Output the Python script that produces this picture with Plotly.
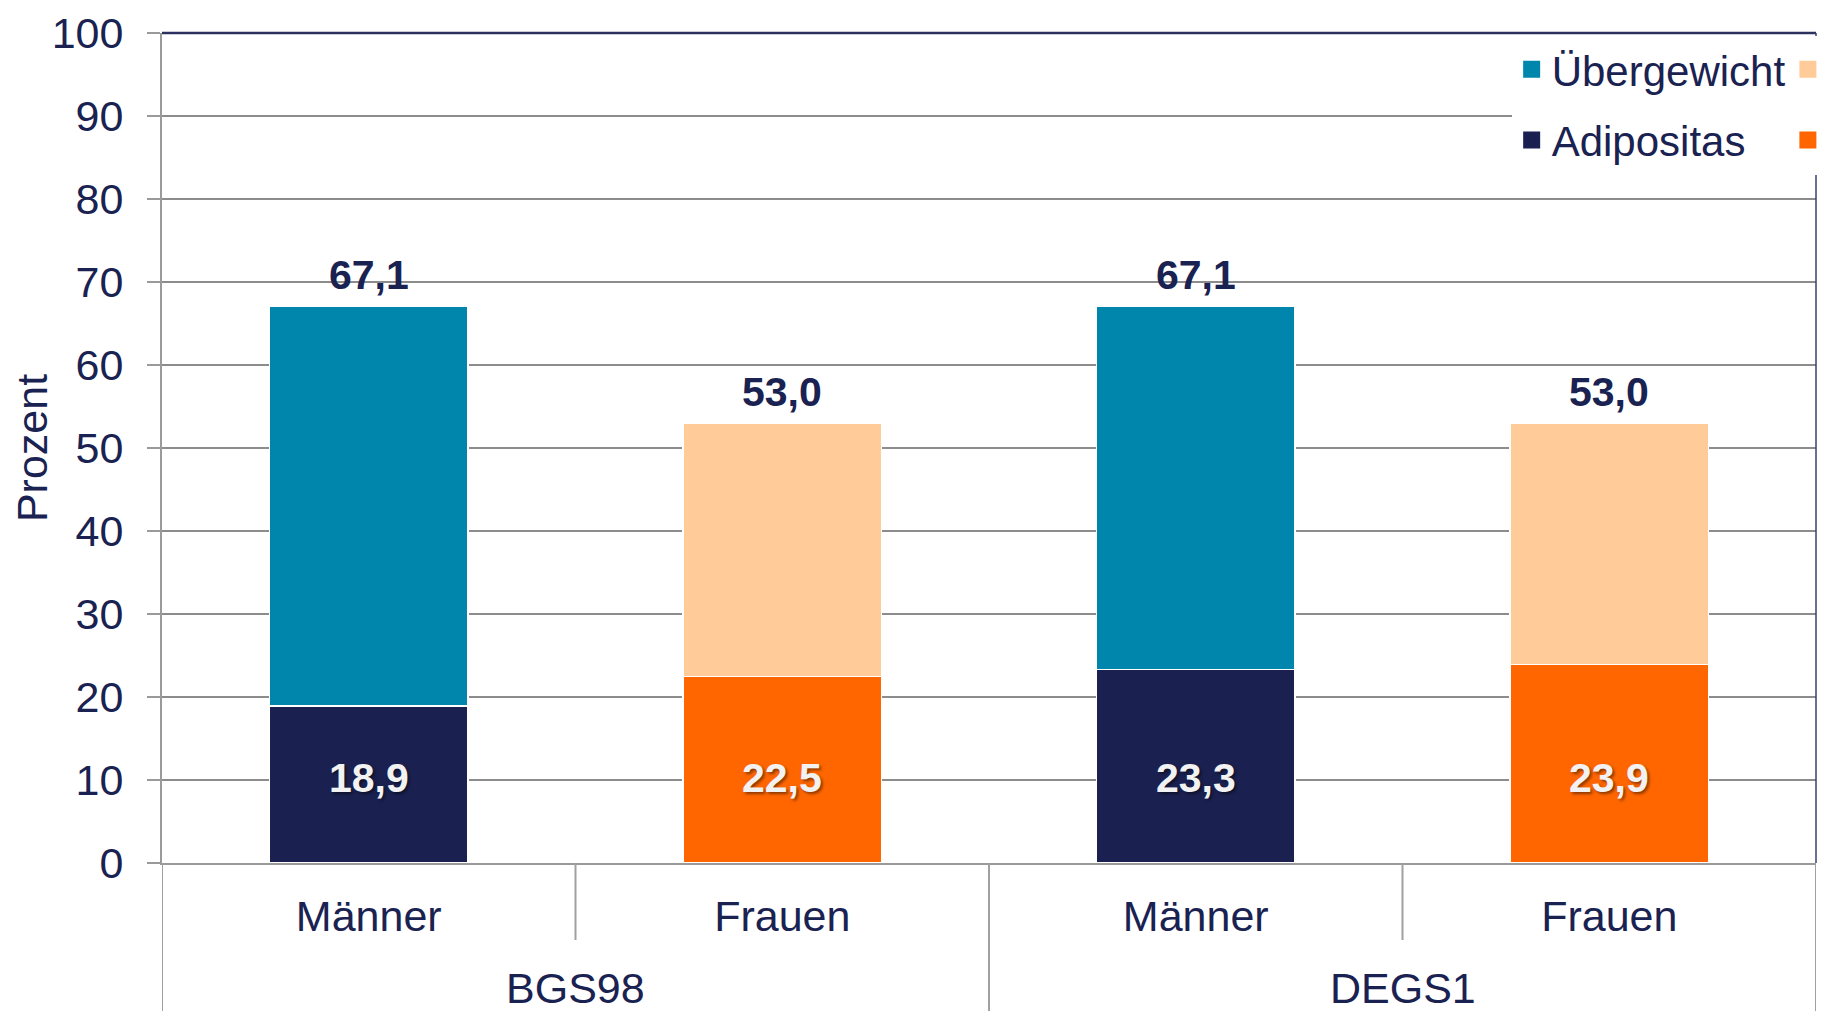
import plotly.graph_objects as go

# ---- data ----
studies = ["BGS98", "BGS98", "DEGS1", "DEGS1"]
sexes = ["Männer", "Frauen", "Männer", "Frauen"]
total_overweight = [67.1, 53.0, 67.1, 53.0]   # Übergewicht incl. Adipositas
obesity = [18.9, 22.5, 23.3, 23.9]            # Adipositas
y_ticks = [0, 10, 20, 30, 40, 50, 60, 70, 80, 90, 100]
group_names = ["BGS98", "DEGS1"]

NAVY_TXT = "#1a2251"
C_MEN_OVER = "#0086ad"
C_MEN_OB = "#1a2150"
C_WOM_OVER = "#ffcc99"
C_WOM_OB = "#ff6600"
GRID = "#8c8c8c"
AXIS = "#9a9a9a"
FONT = "Liberation Sans, Arial, sans-serif"

FIG_W, FIG_H = 1817, 1003
M_L, M_R, M_T, M_B = 154, 9, 25, 148
PLOT_H = FIG_H - M_T - M_B

def py(px_below_axis):
    """paper-y for a distance (px) below the x axis"""
    return -px_below_axis / PLOT_H

xs = list(range(len(sexes)))
men_idx = [i for i, s in enumerate(sexes) if s == "Männer"]
wom_idx = [i for i, s in enumerate(sexes) if s == "Frauen"]
rest = [t - o for t, o in zip(total_overweight, obesity)]

def fmt(v):
    return f"{v:.1f}".replace(".", ",")

fig = go.Figure()
bar_line = dict(color="white", width=1.5)
W = 0.48

series = [
    # (indices, values, colour)
    (men_idx, obesity, C_MEN_OB),
    (men_idx, rest, C_MEN_OVER),
    (wom_idx, obesity, C_WOM_OB),
    (wom_idx, rest, C_WOM_OVER),
]
for idx, vals, col in series:
    fig.add_trace(go.Bar(x=[xs[i] for i in idx], y=[vals[i] for i in idx],
                         marker=dict(color=col, line=bar_line), width=W,
                         showlegend=False, hoverinfo="skip"))

# legend entries (square swatches as in the original)
legend_items = [
    ("Übergewicht", C_MEN_OVER, "legend", 1),
    ("Adipositas", C_MEN_OB, "legend", 2),
    ("", C_WOM_OVER, "legend2", 3),
    ("", C_WOM_OB, "legend2", 4),
]
for name, col, lg, rank in legend_items:
    fig.add_trace(go.Bar(x=[None], y=[None], name=name, legend=lg,
                         legendgroup=f"g{rank}", legendrank=rank,
                         marker=dict(color=col, line=dict(color=col, width=5)),
                         showlegend=True, hoverinfo="skip"))

annotations = []
LABEL_Y = 10.2
for i in xs:
    annotations.append(dict(x=xs[i], y=total_overweight[i], xref="x", yref="y",
                            text=f"<b>{fmt(total_overweight[i])}</b>", showarrow=False,
                            yanchor="middle", yshift=31,
                            font=dict(family=FONT, size=41, color=NAVY_TXT)))
    annotations.append(dict(x=xs[i], y=LABEL_Y, xref="x", yref="y",
                            text=f"<b>{fmt(obesity[i])}</b>", showarrow=False,
                            yanchor="middle",
                            font=dict(family=FONT, size=41, color="#f2f2f2",
                                      shadow="2px 2px 3px rgba(0,0,0,0.45)")))

# group labels (outer category level)
shapes = []
groups = []
for g in group_names:
    idx = [i for i, s in enumerate(studies) if s == g]
    groups.append(idx)
    annotations.append(dict(x=sum(idx) / len(idx), y=py(125), xref="x", yref="paper",
                            text=g, showarrow=False, yanchor="middle",
                            font=dict(family=FONT, size=43, color=NAVY_TXT)))

outer_bounds = [groups[0][0] - 0.5] + [idx[-1] + 0.5 for idx in groups]
for b in outer_bounds:
    shapes.append(dict(type="line", xref="x", yref="paper", x0=b, x1=b, y0=0, y1=py(160),
                       line=dict(color="#a0a0a0", width=2)))
for idx in groups:
    for k in idx[:-1]:
        shapes.append(dict(type="line", xref="x", yref="paper", x0=k + 0.5, x1=k + 0.5,
                           y0=0, y1=py(77), line=dict(color="#a0a0a0", width=2)))
# top and right border
shapes.append(dict(type="line", xref="paper", yref="paper", x0=0, x1=1, y0=1, y1=1,
                   line=dict(color="#2a3160", width=2.5)))
shapes.append(dict(type="line", xref="paper", yref="paper", x0=1, x1=1, y0=0, y1=1,
                   line=dict(color="#3a4070", width=1.5)))

LEG_Y = 1 - 2.5 / PLOT_H
fig.update_layout(
    width=FIG_W, height=FIG_H,
    barmode="stack",
    paper_bgcolor="white", plot_bgcolor="white",
    margin=dict(l=M_L, r=M_R, t=M_T, b=M_B, autoexpand=False),
    font=dict(family=FONT, color=NAVY_TXT, size=43),
    shapes=shapes,
    annotations=annotations,
    showlegend=True,
    legend=dict(x=0.816, y=LEG_Y, xanchor="left", yanchor="top", bgcolor="white",
                orientation="v", traceorder="grouped", tracegroupgap=13,
                font=dict(family=FONT, size=42, color=NAVY_TXT)),
    legend2=dict(x=0.983, y=LEG_Y, xanchor="left", yanchor="top", bgcolor="white",
                 orientation="v", traceorder="grouped", tracegroupgap=13,
                 font=dict(family=FONT, size=42, color=NAVY_TXT)),
    xaxis=dict(range=[-0.5, len(xs) - 0.5], tickmode="array", tickvals=xs, ticktext=sexes,
               ticks="", showgrid=False, zeroline=False, showline=True,
               linecolor=AXIS, linewidth=2, ticklabelstandoff=14,
               tickfont=dict(family=FONT, size=43, color=NAVY_TXT), fixedrange=True),
    yaxis=dict(range=[0, 100], tickmode="array", tickvals=y_ticks,
               ticks="outside", ticklen=13, tickcolor=AXIS, tickwidth=2,
               showgrid=True, gridcolor=GRID, gridwidth=2, zeroline=False,
               showline=True, linecolor=AXIS, linewidth=2, ticklabelstandoff=15,
               ticklabeloverflow="allow",
               tickfont=dict(family=FONT, size=43, color=NAVY_TXT),
               title=dict(text="Prozent", standoff=15,
                          font=dict(family=FONT, size=43, color=NAVY_TXT)),
               fixedrange=True),
)

fig.write_html("out.html")
